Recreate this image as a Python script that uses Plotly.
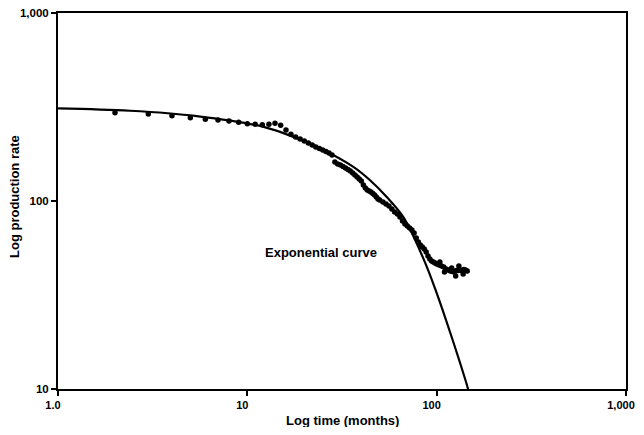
import plotly.graph_objects as go

# Observed production data (time in months, rate)
time_months = [2, 3, 4, 5, 6, 7, 8, 9, 10, 11, 12, 13, 14, 15, 16, 17,
               18, 19, 20, 21, 22, 23, 24, 25, 26, 27, 28, 29, 30, 31, 32, 33,
               34, 35, 36, 37, 38, 39, 40, 41, 42, 43, 44, 45, 46, 47, 48, 49,
               50, 52, 54, 56, 58, 60, 62, 64, 66, 68, 70, 72, 74, 76, 78, 80,
               82, 84, 86, 88, 90, 92, 94, 96, 98, 100, 103, 104, 106, 109, 110,
               112, 115, 118, 120, 121, 124, 126, 127, 130, 131, 133, 136, 138,
               139, 142, 145]
rate = [294.9, 290.3, 284.3, 277.4, 272.0, 269.7, 266.4, 262.2, 257.8, 255.9,
        254.6, 255.9, 259.0, 252.7, 238.6, 226.3,
        219.0, 213.7, 208.5, 203.4, 198.6, 193.8, 190.3, 186.7, 183.4, 180.0,
        175.7, 161.2, 157.3, 155.4, 152.6, 149.8, 147.1, 144.4, 140.9, 137.5,
        134.2, 130.9, 127.8, 121.6, 117.2, 114.4, 113.0, 111.7, 109.6, 107.6,
        105.0, 102.5, 101.2, 98.8, 96.4, 94.1, 90.7, 87.4, 85.3, 82.2, 78.3,
        75.4, 73.6, 71.8, 70.1, 67.6, 63.6, 60.5, 58.3, 56.9, 55.5, 53.5, 51.0,
        49.1, 48.0, 47.4, 46.8, 46.2, 45.6, 47.4, 45.1, 44.6, 41.9, 43.5, 43.0,
        42.4, 44.0, 42.2, 41.9, 39.9, 42.7, 42.7, 45.1, 43.0, 42.7, 40.9, 43.2,
        43.0, 42.4]

# Exponential decline curve
curve_time = [1, 2.4, 5.4, 12.2, 18.2, 24.2, 36.3, 44.5, 54.5, 66.7,
              85.1, 98, 120, 146.5, 155]
curve_rate = [311, 302, 283, 248, 216, 191, 152, 129, 105, 82,
              49.4, 34.3, 18.9, 10, 8]

x_tickvals = [1, 10, 100, 1000]
x_ticktext = ["1.0", "10", "100", "1,000"]
y_tickvals = [10, 100, 1000]
y_ticktext = ["10", "100", "1,000"]

font_family = "Liberation Sans, Arial, sans-serif"
title_font = dict(size=13, color="black", family=font_family, weight="bold")
tick_font = dict(size=11.5, color="black", family=font_family, weight="bold")

fig = go.Figure()
fig.add_trace(go.Scatter(
    x=curve_time, y=curve_rate, mode="lines",
    line=dict(color="black", width=2.2, shape="spline", smoothing=1.0),
    showlegend=False, hoverinfo="skip"))
fig.add_trace(go.Scatter(
    x=time_months, y=rate, mode="markers",
    marker=dict(color="black", size=5.5),
    showlegend=False))

fig.add_annotation(x=1.389, y=1.728, xref="x", yref="y",
                   text="Exponential curve", showarrow=False, font=title_font)
# axis titles
fig.add_annotation(x=0.5, y=0, xref="paper", yref="paper", yshift=-31,
                   yanchor="middle", xanchor="center", borderpad=0,
                   text="Log time (months)", showarrow=False, font=title_font)
fig.add_annotation(x=0, y=0.5, xref="paper", yref="paper", xshift=-44, yshift=4,
                   xanchor="center", yanchor="middle", textangle=-90, borderpad=0,
                   text="Log production rate", showarrow=False, font=title_font)

axis_common = dict(showgrid=False, zeroline=False, showline=True, linecolor="black",
                   linewidth=2, mirror=True, ticks="outside", ticklen=5,
                   tickwidth=1.5, tickcolor="black", automargin=False,
                   ticklabeloverflow="allow")

fig.update_xaxes(type="log", range=[0, 3], tickvals=x_tickvals, ticktext=x_ticktext,
                 ticklabelshift=-5,
                 tickfont=dict(size=11, color="black", family=font_family, weight="bold"),
                 **axis_common)
fig.update_yaxes(type="log", range=[1, 3], tickvals=y_tickvals, ticktext=y_ticktext,
                 tickfont=tick_font, **axis_common)

# page body has an 8px default margin, so the figure is sized to fit the window
fig.update_layout(
    width=636, height=419,
    margin=dict(l=50, r=18, t=5, b=38),
    paper_bgcolor="white", plot_bgcolor="white",
    font=dict(family=font_family, color="black"),
)

fig.write_html("out.html")
